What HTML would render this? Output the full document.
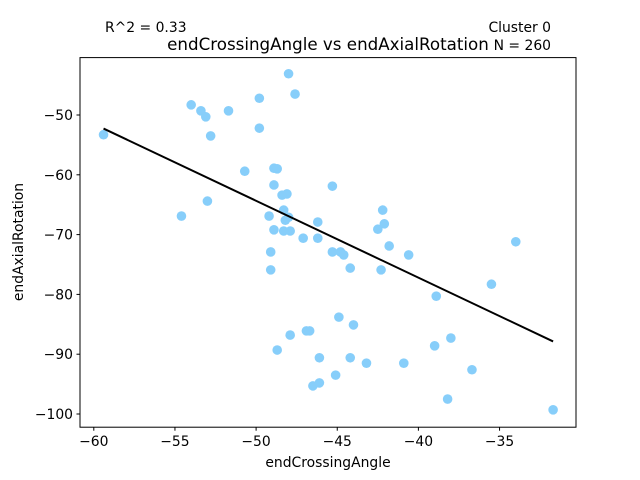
<!DOCTYPE html>
<html><head><meta charset="utf-8"><style>
body{margin:0;background:#fff}
svg{display:block;font-family:"DejaVu Sans","Liberation Sans",sans-serif}
</style></head><body>
<svg id="chart" width="640" height="480" xmlns="http://www.w3.org/2000/svg">
<rect width="640" height="480" fill="#fff"/>
<text x="105" y="32" font-size="13.9">R^2 = 0.33</text>
<text x="551" y="32" font-size="13.9" text-anchor="end">Cluster 0</text>
<text x="551" y="50" font-size="13.9" text-anchor="end">N = 260</text>
<text x="328" y="50" font-size="16.7" text-anchor="middle">endCrossingAngle vs endAxialRotation</text>
<g id="plot"></g>
<rect x="80" y="57.6" width="496" height="369.6" fill="none" stroke="#000" stroke-width="1"/>
<text x="328" y="467" font-size="13.9" text-anchor="middle">endCrossingAngle</text>
<text transform="translate(23,242) rotate(-90)" font-size="13.9" text-anchor="middle">endAxialRotation</text>
</svg>
<script>
const xValues=[-59.4,-54.0,-53.4,-53.1,-52.8,-51.7,-49.8,-49.8,-48.0,-47.6,-50.7,-48.9,-48.7,-48.9,-48.1,-48.4,-48.3,-48.0,-48.2,-47.9,-48.3,-48.9,-49.2,-46.2,-46.2,-47.1,-45.3,-44.8,-44.6,-44.2,-42.5,-42.2,-42.1,-41.8,-40.6,-42.3,-49.1,-49.1,-54.6,-53.0,-47.9,-46.9,-46.7,-46.1,-44.9,-44.0,-44.2,-43.2,-40.9,-39.0,-38.0,-36.7,-38.2,-46.5,-46.1,-45.1,-48.7,-31.7,-34.0,-35.5,-38.9,-45.3];
const yValues=[-53.3,-48.3,-49.3,-50.3,-53.5,-49.3,-47.2,-52.2,-43.1,-46.5,-59.4,-58.9,-59.0,-61.7,-63.2,-63.4,-65.9,-67.1,-67.6,-69.4,-69.4,-69.2,-66.9,-67.9,-70.6,-70.6,-61.9,-72.9,-73.4,-75.6,-69.1,-65.9,-68.2,-71.9,-73.4,-75.9,-72.9,-75.9,-66.9,-64.4,-86.8,-86.1,-86.1,-90.6,-83.8,-85.1,-90.6,-91.5,-91.5,-88.6,-87.3,-92.6,-97.5,-95.3,-94.8,-93.5,-89.3,-99.3,-71.2,-78.3,-80.3,-72.9];
const xTicks=[-60,-55,-50,-45,-40,-35];
const yTicks=[-50,-60,-70,-80,-90,-100];
const slope=-1.285, intercept=-128.6;
const NS="http://www.w3.org/2000/svg";
const sx=v=>93.8+(v+60)*16.23;
const sy=v=>115+(-50-v)*5.98;
const g=document.getElementById('plot');
function mk(t,a){const e=document.createElementNS(NS,t);for(const k in a)e.setAttribute(k,a[k]);g.appendChild(e);return e;}
xTicks.forEach(t=>{
 const l=mk('line',{x1:sx(t),x2:sx(t),y1:427.2,y2:430.7,stroke:'#000'});
 
 
 const tx=mk('text',{x:sx(t),y:446,'font-size':13.9,'text-anchor':'middle'});
 tx.textContent='\u2212'+Math.abs(t);
 
 
});
yTicks.forEach(t=>{
 const l=mk('line',{x1:76.5,x2:80,y1:sy(t),y2:sy(t),stroke:'#000'});
 
 
 const tx=mk('text',{x:73,y:sy(t)+5,'font-size':13.9,'text-anchor':'end'});
 tx.textContent='\u2212'+Math.abs(t);
 
 
});
xValues.forEach((x,i)=>{
 const c=mk('circle',{cx:sx(x),cy:sy(yValues[i]),r:4.8,fill:'#87cefa'});
 
 
});
const xmin=Math.min(...xValues),xmax=Math.max(...xValues);
const ln=mk('line',{x1:sx(xmin),y1:sy(slope*xmin+intercept),x2:sx(xmax),y2:sy(slope*xmax+intercept),stroke:'#000','stroke-width':2});


</script>
</body></html>
